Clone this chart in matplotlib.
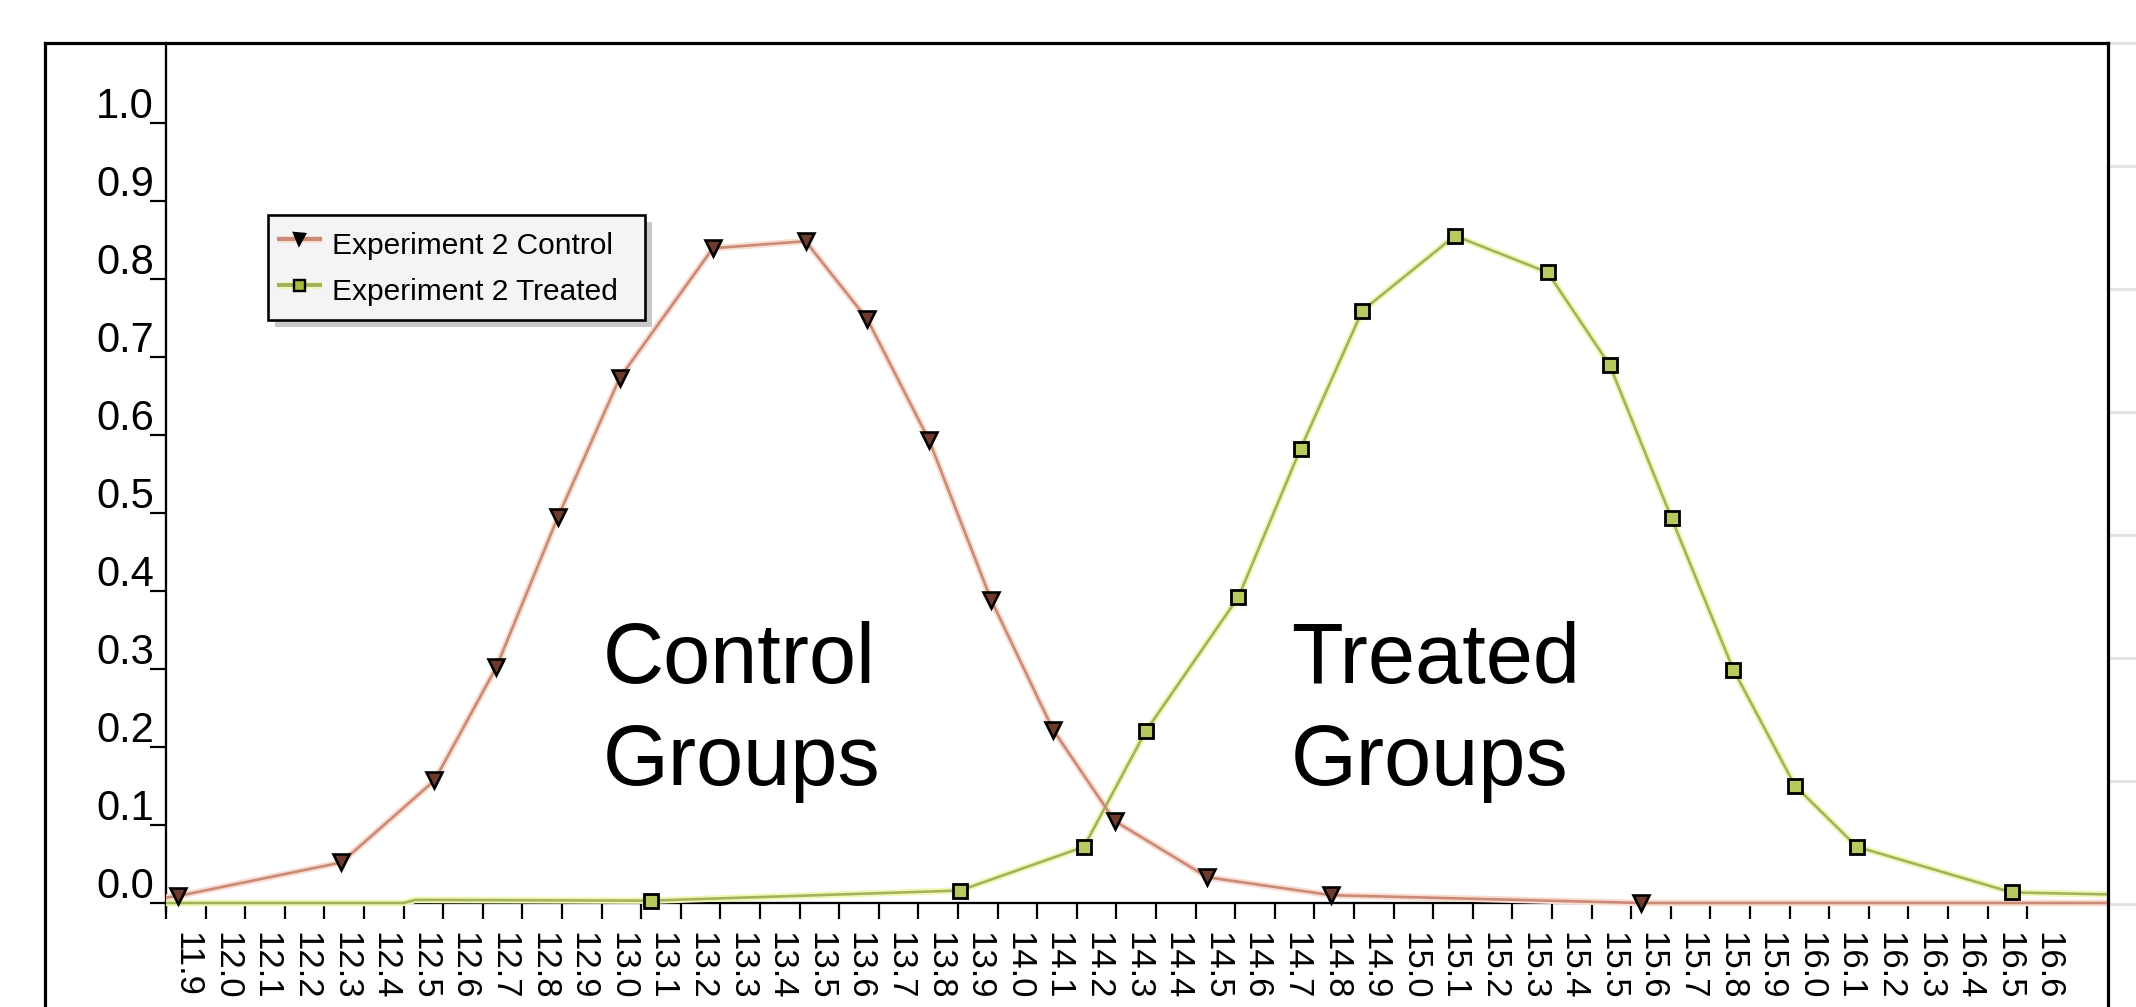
import matplotlib
matplotlib.use("Agg")
import matplotlib.pyplot as plt
import matplotlib.transforms as mtransforms
from matplotlib.lines import Line2D
from matplotlib.patches import Rectangle

# ---------------- data ----------------
tick_labels = ['11.9', '12.0', '12.1', '12.2', '12.3', '12.4', '12.5', '12.6', '12.7', '12.8',
               '12.9', '13.0', '13.1', '13.2', '13.3', '13.4', '13.5', '13.6', '13.7', '13.8',
               '13.9', '14.0', '14.1', '14.2', '14.3', '14.4', '14.5', '14.6', '14.7', '14.8',
               '14.9', '15.0', '15.1', '15.2', '15.3', '15.4', '15.5', '15.6', '15.7', '15.8',
               '15.9', '16.0', '16.1', '16.2', '16.3', '16.4', '16.5', '16.6']
y_ticks = [0.0, 0.1, 0.2, 0.3, 0.4, 0.5, 0.6, 0.7, 0.8, 0.9, 1.0]
y_tick_labels = ['0.0', '0.1', '0.2', '0.3', '0.4', '0.5', '0.6', '0.7', '0.8', '0.9', '1.0']

# Experiment 2 Control (points with markers)
control_x = [11.931, 12.343, 12.578, 12.734, 12.890, 13.046, 13.281, 13.515, 13.671,
             13.827, 13.984, 14.140, 14.296, 14.530, 14.843, 15.624]
control_y = [0.009, 0.052, 0.157, 0.302, 0.495, 0.673, 0.839, 0.848, 0.748,
             0.593, 0.388, 0.222, 0.105, 0.033, 0.010, 0.0]
# line continues beyond the marked points
control_start_x, control_start_y = [11.9], [0.007]
control_end_x, control_end_y = [16.2, 16.9], [0.0, 0.0]

# Experiment 2 Treated (points with markers)
treated_x = [13.124, 13.905, 14.218, 14.374, 14.608, 14.765, 14.921, 15.155,
             15.389, 15.546, 15.702, 15.858, 16.014, 16.170, 16.561]
treated_y = [0.003, 0.016, 0.072, 0.220, 0.392, 0.582, 0.759, 0.855,
             0.808, 0.689, 0.493, 0.299, 0.150, 0.072, 0.0136]
treated_start_x, treated_start_y = [11.9, 12.5, 12.53], [0.0, 0.0, 0.004]
treated_end_x, treated_end_y = [16.66, 16.9], [0.0125, 0.010]

series_names = ['Experiment 2 Control', 'Experiment 2 Treated']
group_labels = [('Control', 'Groups'), ('Treated', 'Groups')]

# ---------------- layout helpers ----------------
W, H = 2136, 1007
DPI = 100
PT = 72.0 / DPI  # points per pixel

fig = plt.figure(figsize=(W / DPI, H / DPI), dpi=DPI)
fig.patch.set_facecolor('white')

FONT = ['Liberation Sans', 'Arial', 'DejaVu Sans']
plt.rcParams['font.family'] = FONT

def fx(x):
    return x / W

def fy(y):
    return 1 - y / H

# axes: x from 166px to 2108px ; y=0 at 903px, 1.0 at 122.6px, top 43px
y0_px, y1_px = 903.0, 122.6
ppu = y0_px - y1_px
ybot = -0.01
ytop = (y0_px - 43.0) / ppu
ax_bottom_px = y0_px - ybot * ppu
ax = fig.add_axes([fx(166), fy(ax_bottom_px), fx(2108) - fx(166), (ax_bottom_px - 43) / H])
ax.set_facecolor('white')
xvals = [float(s) for s in tick_labels]
x_right = 11.9 + (2108 - 166) / 396.0
ax.set_xlim(11.9, x_right)
ax.set_ylim(ybot, ytop)

for s in ['top', 'right']:
    ax.spines[s].set_visible(False)
ax.spines['left'].set_linewidth(2.3 * PT)
ax.spines['bottom'].set_linewidth(2.3 * PT)
ax.spines['bottom'].set_position(('data', 0))
ax.spines['left'].set_zorder(1)
ax.spines['bottom'].set_zorder(1)

ax.set_xticks(xvals)
ax.set_xticklabels([])
ax.set_yticks(y_ticks)
ax.set_yticklabels([])
ax.tick_params(axis='both', direction='out', length=16 * PT, width=2.2 * PT, color='black')

# y tick labels: right-aligned, sitting just above their tick
yoff = mtransforms.ScaledTranslation(-12 / DPI, 5 / DPI, fig.dpi_scale_trans)
ytrans = mtransforms.blended_transform_factory(ax.transAxes, ax.transData) + yoff
for yv, lab in zip(y_ticks, y_tick_labels):
    ax.text(0, yv, lab, transform=ytrans, ha='right', va='baseline', fontsize=30, clip_on=False)

# x tick labels (rotated, offset to the right of tick)
off = mtransforms.ScaledTranslation(21 / DPI, -29 / DPI, fig.dpi_scale_trans)
for xv, lab in zip(xvals, tick_labels):
    ax.text(xv, 0, lab, transform=ax.transData + off, rotation=270,
            ha='center', va='top', fontsize=25, clip_on=False)

# ---------------- series ----------------
red_core, red_glow = '#C98A77', '#F8DCD0'
green_core, green_glow = '#A3B25E', '#F1F6B4'

cl_x = control_start_x + control_x + control_end_x
cl_y = control_start_y + control_y + control_end_y
tl_x = treated_start_x + treated_x + treated_end_x
tl_y = treated_start_y + treated_y + treated_end_y

ax.plot(tl_x, tl_y, color=green_glow, lw=6.5 * PT, zorder=3, solid_capstyle='butt')
ax.plot(cl_x, cl_y, color=red_glow, lw=6.5 * PT, zorder=3, solid_capstyle='butt')
ax.plot(tl_x, tl_y, color=green_core, lw=2.6 * PT, zorder=4, solid_capstyle='butt')
ax.plot(cl_x, cl_y, color=red_core, lw=2.6 * PT, zorder=4, solid_capstyle='butt')

ax.plot(control_x, control_y, linestyle='none', marker='v', markersize=16 * PT,
        markerfacecolor='#6E3A2C', markeredgecolor='black', markeredgewidth=2.6 * PT,
        zorder=5, clip_on=False)
ax.plot(treated_x, treated_y, linestyle='none', marker='s', markersize=14 * PT,
        markerfacecolor='#B9C95E', markeredgecolor='black', markeredgewidth=2.8 * PT,
        zorder=5, clip_on=False)

# ---------------- annotations ----------------
for (l1, l2), xpx in zip(group_labels, [603, 1291]):
    fig.text(fx(xpx), fy(683), l1, fontsize=61, ha='left', va='baseline', color='black')
    fig.text(fx(xpx), fy(785), l2, fontsize=61, ha='left', va='baseline', color='black')

# ---------------- legend (drawn in pixel layout) ----------------
fig.patches.append(Rectangle((fx(275), fy(327)), fx(645) - fx(268), (320 - 215) / H,
                             transform=fig.transFigure, facecolor='#C8C8C8', edgecolor='none', zorder=10))
fig.patches.append(Rectangle((fx(268), fy(320)), fx(645) - fx(268), (320 - 215) / H,
                             transform=fig.transFigure, facecolor='#F4F4F4', edgecolor='black',
                             linewidth=2.6 * PT, zorder=11))
leg_rows = [(239, red_core, red_glow, 'v', '#9A5A48'), (285, green_core, green_glow, 's', '#A9BC3C')]
for name, (ypx, core, glow, mk, mfc) in zip(series_names, leg_rows):
    fig.add_artist(Line2D([fx(277), fx(322)], [fy(ypx), fy(ypx)], color=glow, lw=7 * PT,
                          transform=fig.transFigure, zorder=12, solid_capstyle='butt'))
    fig.add_artist(Line2D([fx(277), fx(322)], [fy(ypx), fy(ypx)], color=core, lw=4 * PT,
                          transform=fig.transFigure, zorder=12, solid_capstyle='butt'))
    fig.add_artist(Line2D([fx(299)], [fy(ypx)], marker=mk, markersize=11 * PT,
                          markerfacecolor=mfc if mk == 's' else 'black', markeredgecolor='black',
                          markeredgewidth=2.4 * PT, transform=fig.transFigure, zorder=13))
    fig.text(fx(332), fy(ypx + 15), name, fontsize=21.5, ha='left', va='baseline', zorder=13)

# ---------------- outer frame and right-edge grid stubs ----------------
frame_kw = dict(color='black', lw=3.2 * PT, transform=fig.transFigure, zorder=20)
fig.add_artist(Line2D([fx(45), fx(45)], [fy(43), -0.05], **frame_kw))
fig.add_artist(Line2D([fx(45), fx(2108)], [fy(43), fy(43)], solid_capstyle='projecting', **frame_kw))
fig.add_artist(Line2D([fx(2108), fx(2108)], [fy(43), -0.05], **frame_kw))
for ypx in [43, 166, 289, 412, 535, 658, 781, 904]:
    fig.add_artist(Line2D([fx(2110), 1.0], [fy(ypx), fy(ypx)], color='#E3E3E3', lw=3 * PT,
                          transform=fig.transFigure, zorder=1))

fig.savefig('out.png', dpi=DPI, facecolor='white')
